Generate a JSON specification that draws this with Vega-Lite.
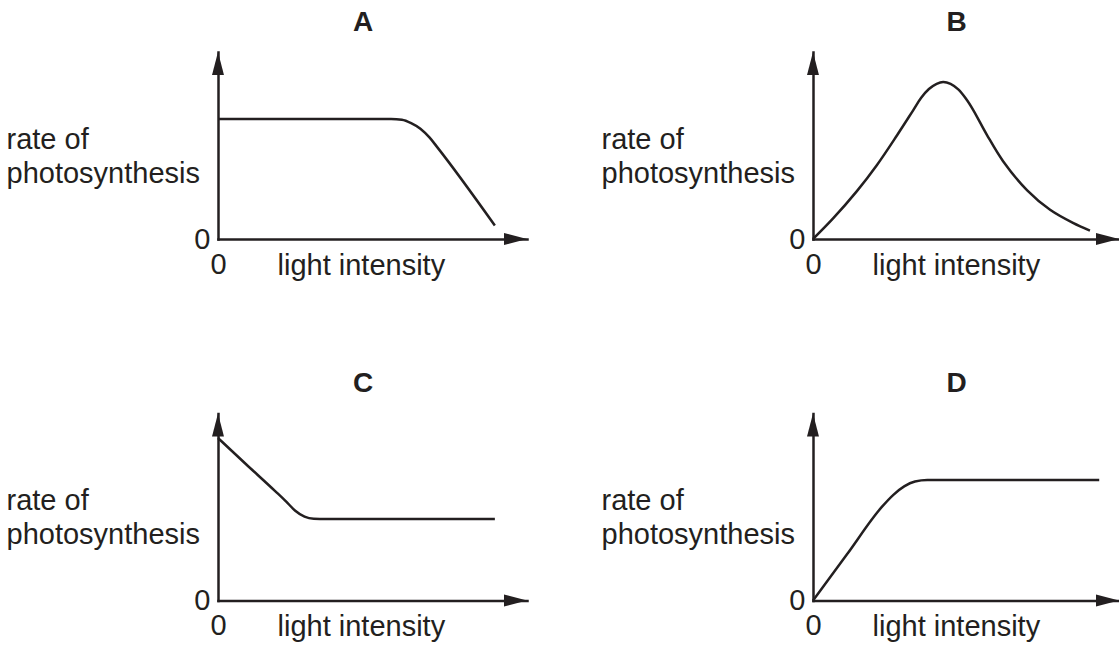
{
  "$schema": "https://vega.github.io/schema/vega-lite/v6.json",
  "padding": {"left": 6, "top": 8, "right": 0, "bottom": 0},
  "background": "white",
  "datasets": {
    "curves": [
      {"panel": "A", "light": 0, "rate": 6.42},
      {"panel": "A", "light": 2, "rate": 6.42},
      {"panel": "A", "light": 4, "rate": 6.42},
      {"panel": "A", "light": 5.6, "rate": 6.42},
      {"panel": "A", "light": 5.95, "rate": 6.38},
      {"panel": "A", "light": 6.25, "rate": 6.2},
      {"panel": "A", "light": 6.55, "rate": 5.9},
      {"panel": "A", "light": 6.85, "rate": 5.42},
      {"panel": "A", "light": 7.1, "rate": 4.9},
      {"panel": "A", "light": 8.96, "rate": 0.72},
      {"panel": "B", "light": 0, "rate": 0},
      {"panel": "B", "light": 0.65, "rate": 1.1},
      {"panel": "B", "light": 1.42, "rate": 2.56},
      {"panel": "B", "light": 2.07, "rate": 3.96},
      {"panel": "B", "light": 2.72, "rate": 5.55},
      {"panel": "B", "light": 3.24, "rate": 6.88},
      {"panel": "B", "light": 3.5, "rate": 7.55},
      {"panel": "B", "light": 3.75, "rate": 8.02},
      {"panel": "B", "light": 4.0, "rate": 8.3},
      {"panel": "B", "light": 4.21, "rate": 8.4},
      {"panel": "B", "light": 4.45, "rate": 8.3},
      {"panel": "B", "light": 4.7, "rate": 8.0},
      {"panel": "B", "light": 4.95, "rate": 7.5},
      {"panel": "B", "light": 5.18, "rate": 6.91},
      {"panel": "B", "light": 5.63, "rate": 5.56},
      {"panel": "B", "light": 6.15, "rate": 4.16},
      {"panel": "B", "light": 6.93, "rate": 2.6},
      {"panel": "B", "light": 7.67, "rate": 1.56},
      {"panel": "B", "light": 8.41, "rate": 0.86},
      {"panel": "B", "light": 8.96, "rate": 0.45},
      {"panel": "C", "light": 0, "rate": 8.69},
      {"panel": "C", "light": 0.9, "rate": 7.3},
      {"panel": "C", "light": 1.85, "rate": 5.85},
      {"panel": "C", "light": 2.2, "rate": 5.3},
      {"panel": "C", "light": 2.5, "rate": 4.8},
      {"panel": "C", "light": 2.8, "rate": 4.48},
      {"panel": "C", "light": 3.1, "rate": 4.37},
      {"panel": "C", "light": 3.5, "rate": 4.36},
      {"panel": "C", "light": 6, "rate": 4.36},
      {"panel": "C", "light": 8.96, "rate": 4.36},
      {"panel": "D", "light": 0, "rate": 0},
      {"panel": "D", "light": 1.1, "rate": 2.47},
      {"panel": "D", "light": 2.22, "rate": 4.99},
      {"panel": "D", "light": 2.6, "rate": 5.65},
      {"panel": "D", "light": 2.95, "rate": 6.1},
      {"panel": "D", "light": 3.3, "rate": 6.36},
      {"panel": "D", "light": 3.7, "rate": 6.44},
      {"panel": "D", "light": 6.5, "rate": 6.44},
      {"panel": "D", "light": 9.26, "rate": 6.44}
    ],
    "arrows": [
      {"panel": "A", "axis": "x", "light": 10, "rate": 0},
      {"panel": "A", "axis": "y", "light": 0, "rate": 10},
      {"panel": "B", "axis": "x", "light": 9.9, "rate": 0},
      {"panel": "B", "axis": "y", "light": 0, "rate": 10},
      {"panel": "C", "axis": "x", "light": 10, "rate": 0},
      {"panel": "C", "axis": "y", "light": 0, "rate": 10},
      {"panel": "D", "axis": "x", "light": 9.9, "rate": 0},
      {"panel": "D", "axis": "y", "light": 0, "rate": 10}
    ]
  },
  "columns": 2,
  "bounds": "flush",
  "spacing": {"row": 174.5, "column": 286},
  "concat": [
    {
      "width": 309, "height": 187,
      "title": {"text": "A"},
      "layer": [
        {
          "data": {"name": "curves"},
          "transform": [{"filter": "datum.panel === 'A'"}],
          "mark": {"type": "line", "interpolate": "monotone", "color": "#231f20", "strokeWidth": 2.5},
          "encoding": {
            "x": {"field": "light", "type": "quantitative", "scale": {"domain": [0, 10], "nice": false}, "title": "light intensity", "axis": {"values": [0]}},
            "y": {"field": "rate", "type": "quantitative", "scale": {"domain": [0, 10], "nice": false}, "title": ["rate of", "photosynthesis"], "axis": {"values": [0]}}
          }
        },
        {
          "data": {"name": "arrows"},
          "transform": [{"filter": "datum.panel === 'A' && datum.axis === 'x'"}],
          "mark": {"type": "point", "shape": "M0,0L-2,-0.52L-2,0.52Z", "size": 529, "filled": true, "color": "#231f20", "opacity": 1, "strokeWidth": 0},
          "encoding": {"x": {"field": "light", "type": "quantitative"}, "y": {"field": "rate", "type": "quantitative"}}
        },
        {
          "data": {"name": "arrows"},
          "transform": [{"filter": "datum.panel === 'A' && datum.axis === 'y'"}],
          "mark": {"type": "point", "shape": "M0,0L-0.52,2L0.52,2Z", "size": 529, "filled": true, "color": "#231f20", "opacity": 1, "strokeWidth": 0},
          "encoding": {"x": {"field": "light", "type": "quantitative"}, "y": {"field": "rate", "type": "quantitative"}}
        }
      ]
    },
    {
      "width": 306, "height": 187,
      "title": {"text": "B"},
      "layer": [
        {
          "data": {"name": "curves"},
          "transform": [{"filter": "datum.panel === 'B'"}],
          "mark": {"type": "line", "interpolate": "catmull-rom", "color": "#231f20", "strokeWidth": 2.5},
          "encoding": {
            "x": {"field": "light", "type": "quantitative", "scale": {"domain": [0, 9.9], "nice": false}, "title": "light intensity", "axis": {"values": [0]}},
            "y": {"field": "rate", "type": "quantitative", "scale": {"domain": [0, 10], "nice": false}, "title": ["rate of", "photosynthesis"], "axis": {"values": [0]}}
          }
        },
        {
          "data": {"name": "arrows"},
          "transform": [{"filter": "datum.panel === 'B' && datum.axis === 'x'"}],
          "mark": {"type": "point", "shape": "M0,0L-2,-0.52L-2,0.52Z", "size": 529, "filled": true, "color": "#231f20", "opacity": 1, "strokeWidth": 0},
          "encoding": {"x": {"field": "light", "type": "quantitative"}, "y": {"field": "rate", "type": "quantitative"}}
        },
        {
          "data": {"name": "arrows"},
          "transform": [{"filter": "datum.panel === 'B' && datum.axis === 'y'"}],
          "mark": {"type": "point", "shape": "M0,0L-0.52,2L0.52,2Z", "size": 529, "filled": true, "color": "#231f20", "opacity": 1, "strokeWidth": 0},
          "encoding": {"x": {"field": "light", "type": "quantitative"}, "y": {"field": "rate", "type": "quantitative"}}
        }
      ]
    },
    {
      "width": 309, "height": 187,
      "title": {"text": "C"},
      "layer": [
        {
          "data": {"name": "curves"},
          "transform": [{"filter": "datum.panel === 'C'"}],
          "mark": {"type": "line", "interpolate": "monotone", "color": "#231f20", "strokeWidth": 2.5},
          "encoding": {
            "x": {"field": "light", "type": "quantitative", "scale": {"domain": [0, 10], "nice": false}, "title": "light intensity", "axis": {"values": [0]}},
            "y": {"field": "rate", "type": "quantitative", "scale": {"domain": [0, 10], "nice": false}, "title": ["rate of", "photosynthesis"], "axis": {"values": [0]}}
          }
        },
        {
          "data": {"name": "arrows"},
          "transform": [{"filter": "datum.panel === 'C' && datum.axis === 'x'"}],
          "mark": {"type": "point", "shape": "M0,0L-2,-0.52L-2,0.52Z", "size": 529, "filled": true, "color": "#231f20", "opacity": 1, "strokeWidth": 0},
          "encoding": {"x": {"field": "light", "type": "quantitative"}, "y": {"field": "rate", "type": "quantitative"}}
        },
        {
          "data": {"name": "arrows"},
          "transform": [{"filter": "datum.panel === 'C' && datum.axis === 'y'"}],
          "mark": {"type": "point", "shape": "M0,0L-0.52,2L0.52,2Z", "size": 529, "filled": true, "color": "#231f20", "opacity": 1, "strokeWidth": 0},
          "encoding": {"x": {"field": "light", "type": "quantitative"}, "y": {"field": "rate", "type": "quantitative"}}
        }
      ]
    },
    {
      "width": 306, "height": 187,
      "title": {"text": "D"},
      "layer": [
        {
          "data": {"name": "curves"},
          "transform": [{"filter": "datum.panel === 'D'"}],
          "mark": {"type": "line", "interpolate": "monotone", "color": "#231f20", "strokeWidth": 2.5},
          "encoding": {
            "x": {"field": "light", "type": "quantitative", "scale": {"domain": [0, 9.9], "nice": false}, "title": "light intensity", "axis": {"values": [0]}},
            "y": {"field": "rate", "type": "quantitative", "scale": {"domain": [0, 10], "nice": false}, "title": ["rate of", "photosynthesis"], "axis": {"values": [0]}}
          }
        },
        {
          "data": {"name": "arrows"},
          "transform": [{"filter": "datum.panel === 'D' && datum.axis === 'x'"}],
          "mark": {"type": "point", "shape": "M0,0L-2,-0.52L-2,0.52Z", "size": 529, "filled": true, "color": "#231f20", "opacity": 1, "strokeWidth": 0},
          "encoding": {"x": {"field": "light", "type": "quantitative"}, "y": {"field": "rate", "type": "quantitative"}}
        },
        {
          "data": {"name": "arrows"},
          "transform": [{"filter": "datum.panel === 'D' && datum.axis === 'y'"}],
          "mark": {"type": "point", "shape": "M0,0L-0.52,2L0.52,2Z", "size": 529, "filled": true, "color": "#231f20", "opacity": 1, "strokeWidth": 0},
          "encoding": {"x": {"field": "light", "type": "quantitative"}, "y": {"field": "rate", "type": "quantitative"}}
        }
      ]
    }
  ],
  "config": {
    "font": "Liberation Sans",
    "view": {"stroke": null},
    "title": {
      "font": "Liberation Sans",
      "fontSize": 28,
      "fontWeight": "bold",
      "color": "#231f20",
      "anchor": "middle",
      "frame": "group",
      "baseline": "alphabetic",
      "offset": 15.5,
      "dx": -9.5
    },
    "axisX": {
      "domain": true,
      "domainColor": "#231f20",
      "domainWidth": 2.5,
      "domainCap": "square",
      "ticks": false,
      "tickSize": 0,
      "grid": false,
      "labelFont": "Liberation Sans",
      "labelFontSize": 29,
      "labelColor": "#231f20",
      "labelBaseline": "alphabetic",
      "labelAlign": "center",
      "labelPadding": 34,
      "titleFont": "Liberation Sans",
      "titleFontSize": 29,
      "titleFontWeight": "normal",
      "titleColor": "#231f20",
      "titleAlign": "left",
      "titleBaseline": "alphabetic",
      "titleAnchor": "start",
      "titleX": 59,
      "titleY": 35
    },
    "axisY": {
      "domain": true,
      "domainColor": "#231f20",
      "domainWidth": 2.5,
      "domainCap": "square",
      "ticks": false,
      "tickSize": 0,
      "grid": false,
      "labelFont": "Liberation Sans",
      "labelFontSize": 29,
      "labelColor": "#231f20",
      "labelBaseline": "middle",
      "labelAlign": "right",
      "labelPadding": 8,
      "titleFont": "Liberation Sans",
      "titleFontSize": 29,
      "titleFontWeight": "normal",
      "titleColor": "#231f20",
      "titleAngle": 0,
      "titleAlign": "left",
      "titleBaseline": "alphabetic",
      "titleAnchor": "start",
      "titleLineHeight": 34,
      "titleX": -212,
      "titleY": 96
    }
  }
}
